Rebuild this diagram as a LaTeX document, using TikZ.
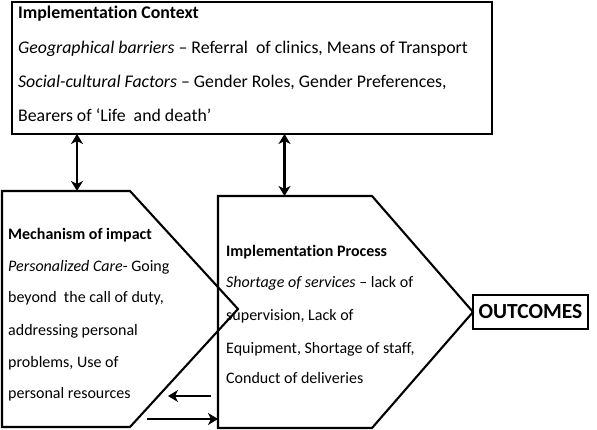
\documentclass[tikz,border=0pt]{standalone}
\usepackage{fontspec}
\setmainfont{Carlito}[Ligatures=NoCommon]
\usetikzlibrary{arrows.meta}
\begin{document}
\begin{tikzpicture}[x=1pt,y=-1pt,
  holder/.style={inner sep=0pt,outer sep=0pt},
  frame/.style={draw,line width=2.1pt},
  txt/.style={anchor=base west,inner sep=0pt,font=\fontsize{17.8}{20}\selectfont},
  hdr/.style={anchor=base west,inner sep=0pt,font=\fontsize{17.8}{20}\selectfont\bfseries},
  stxt/.style={anchor=base west,inner sep=0pt,font=\fontsize{16}{19}\selectfont},
  shdr/.style={anchor=base west,inner sep=0pt,font=\fontsize{16}{19}\selectfont\bfseries},
  tipA/.tip={Stealth[length=10pt,width=12pt,inset=3pt]},
  dbl/.style={line width=2.8pt,tipA-tipA},
  arr/.style={line width=2.8pt,-tipA}]
\useasboundingbox (0,0) rectangle (597,430);

% implementation context box
\node[holder,frame,minimum width=480pt,minimum height=132pt] (ctx) at (252,68) {};
\node[hdr] (c1) at (18,18.5) {Implementation Context};
\node[txt] (c2) at (18,54) {\textit{Geographical barriers} -- Referral\ \ of clinics, Means of Transport};
\node[txt] (c3) at (18,87.5) {\textit{Social-cultural Factors} -- Gender Roles, Gender Preferences,};
\node[txt] (c4) at (18,121.5) {Bearers of ‘Life\ \ and death’};

% mechanism of impact
\node[holder,minimum width=128pt,minimum height=236pt] (mech) at (66,309) {};
\draw[frame] (mech.north west) -- (mech.north east) -- ([xshift=108pt]mech.east)
  -- (mech.south east) -- (mech.south west) -- cycle;
\node[shdr] (m1) at (8,240) {Mechanism of impact};
\node[stxt] (m2) at (8,272) {\textit{Personalized Care}- Going};
\node[stxt] (m3) at (8,303) {beyond\ \ the call of duty,};
\node[stxt] (m4) at (8,335.5) {addressing personal};
\node[stxt] (m5) at (8,367) {problems, Use of};
\node[stxt] (m6) at (8,398) {personal resources};

% implementation process
\node[holder,minimum width=154pt,minimum height=232pt] (proc) at (295,312) {};
\draw[frame] (proc.north west) -- (proc.north east) -- ([xshift=101pt]proc.east)
  -- (proc.south east) -- (proc.south west) -- cycle;
\node[shdr] (p1) at (226,257) {Implementation Process};
\node[stxt] (p2) at (226,288) {\textit{Shortage of services} -- lack of};
\node[stxt] (p3) at (226,320) {supervision, Lack of};
\node[stxt] (p4) at (226,353) {Equipment, Shortage of staff,};
\node[stxt] (p5) at (226,383) {Conduct of deliveries};

% outcomes
\node[holder,frame,minimum width=115pt,minimum height=34pt,
  font=\fontsize{21.5}{24}\selectfont\bfseries] (out) at (530.5,312) {OUTCOMES};

% connectors
\draw[dbl] ([xshift=65pt]ctx.south west) -- ([xshift=75pt]mech.north west);
\draw[dbl] ([xshift=272.5pt]ctx.south west) -- ([xshift=66.5pt]proc.north west);
\draw[arr] ([xshift=-7pt,yshift=32pt]proc.south west) -- ([xshift=38pt,yshift=31pt]mech.south east);
\draw[arr] ([xshift=17pt,yshift=8pt]mech.south east) -- ([yshift=9pt]proc.south west);
\end{tikzpicture}
\end{document}
